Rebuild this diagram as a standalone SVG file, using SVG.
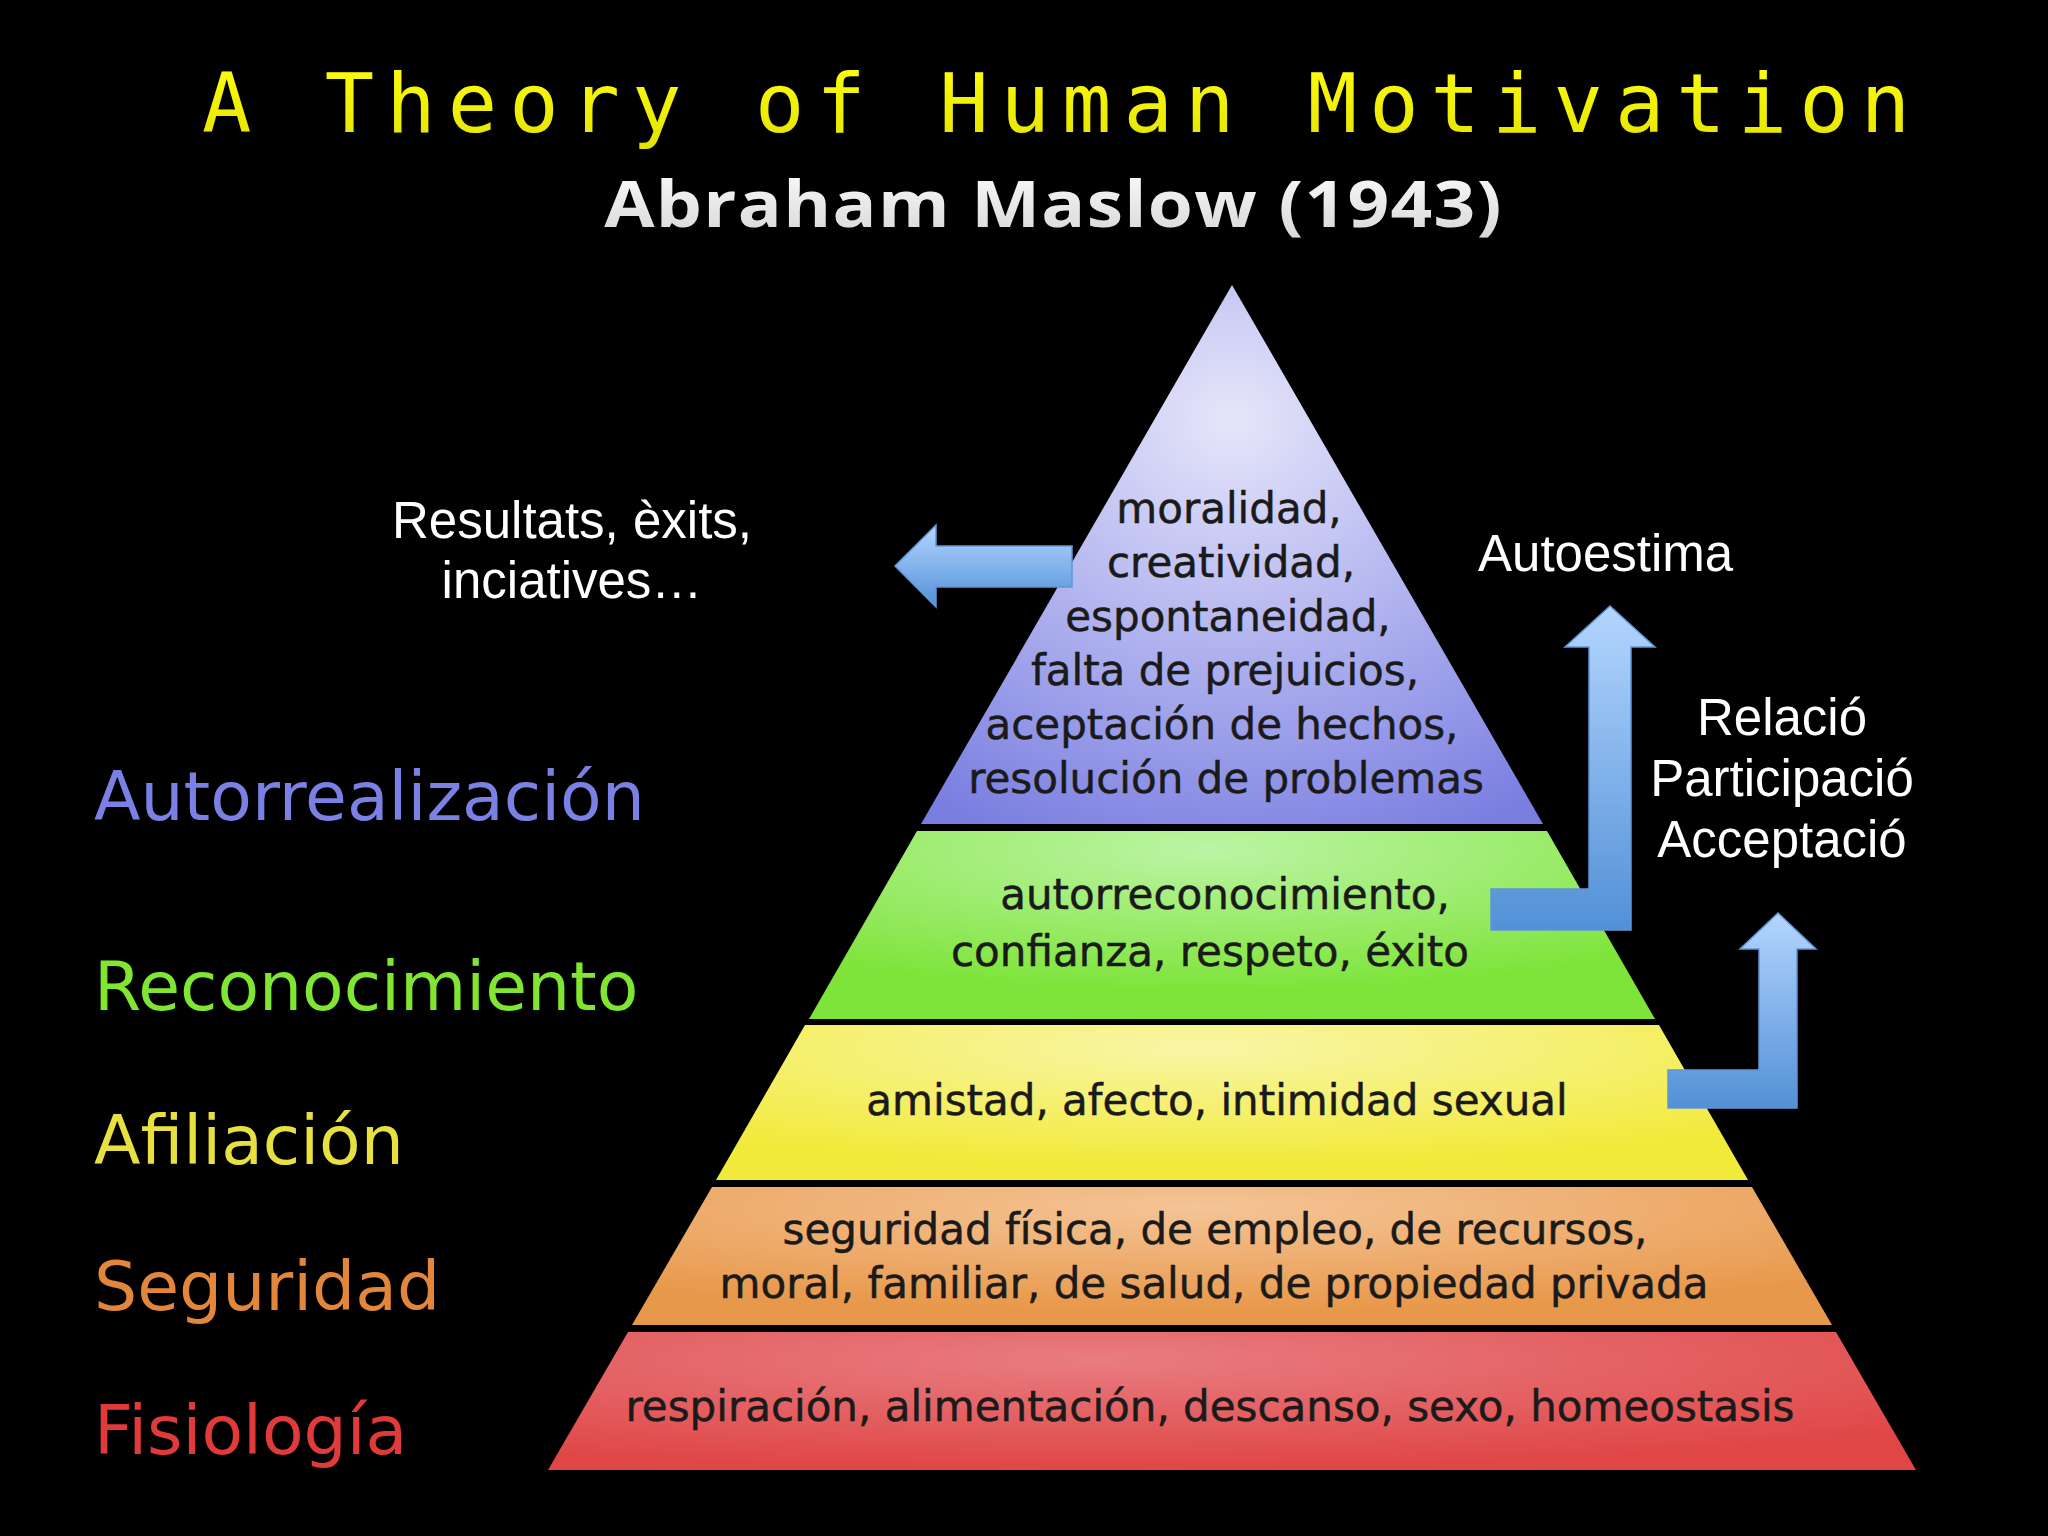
<svg xmlns="http://www.w3.org/2000/svg" width="2048" height="1536" viewBox="0 0 2048 1536">
<defs>
<style>
.lvl{font-family:"DejaVu Sans",Verdana,sans-serif;font-size:42px;fill:#1a1a1a;stroke:#1a1a1a;stroke-width:0.5;text-anchor:middle}
.lab{font-family:"DejaVu Sans",Verdana,sans-serif;font-size:68px}
.note{font-family:"Liberation Sans",Arial,sans-serif;font-size:51px;fill:#ffffff}
.arrow{stroke:#5f97d8;stroke-width:1.5}
</style>
<radialGradient id="gPurple" cx="0.5" cy="0.25" r="0.85">
<stop offset="0" stop-color="#e6e6fa"/>
<stop offset="0.45" stop-color="#b6b8f0"/>
<stop offset="1" stop-color="#7a7ee0"/>
</radialGradient>
<radialGradient id="gGreen" cx="0.47" cy="0.1" r="0.75">
<stop offset="0" stop-color="#bcf4a4"/>
<stop offset="1" stop-color="#7ee43a"/>
</radialGradient>
<radialGradient id="gYellow" cx="0.47" cy="0.15" r="0.75">
<stop offset="0" stop-color="#f8f6a6"/>
<stop offset="1" stop-color="#f2ea3a"/>
</radialGradient>
<radialGradient id="gOrange" cx="0.47" cy="0.15" r="0.75">
<stop offset="0" stop-color="#f4c496"/>
<stop offset="1" stop-color="#e8984a"/>
</radialGradient>
<radialGradient id="gRed" cx="0.4" cy="0.2" r="0.8">
<stop offset="0" stop-color="#e87c80"/>
<stop offset="1" stop-color="#e04646"/>
</radialGradient>
<linearGradient id="gArrow" x1="0" y1="0" x2="0" y2="1">
<stop offset="0" stop-color="#b4d6ff"/>
<stop offset="1" stop-color="#5290d6"/>
</linearGradient>
<linearGradient id="gTitle" x1="0" y1="0" x2="0" y2="1">
<stop offset="0" stop-color="#ffff10"/>
<stop offset="1" stop-color="#e2e200"/>
</linearGradient>
<linearGradient id="gSub" x1="0" y1="0" x2="0" y2="1">
<stop offset="0" stop-color="#ffffff"/>
<stop offset="1" stop-color="#d4d4d4"/>
</linearGradient>
</defs>
<rect width="2048" height="1536" fill="#000"/>

<g id="title">
<text x="202" y="132" font-family="'DejaVu Sans Mono','Liberation Mono',monospace" font-size="82" fill="url(#gTitle)" textLength="1708" lengthAdjust="spacing">A Theory of Human Motivation</text>
</g>
<g id="subtitle">
<text transform="scale(1.14,1)" x="530" y="227" font-family="'Open Sans','Noto Sans',sans-serif" font-weight="bold" font-size="64" fill="url(#gSub)" textLength="787" lengthAdjust="spacing">Abraham Maslow (1943)</text>
</g>

<g id="level-autorrealizacion">
<polygon points="1232,285 1543,824 921,824" fill="url(#gPurple)"/>
<text class="lvl"><tspan x="1229" y="523">moralidad,</tspan><tspan x="1231" y="577">creatividad,</tspan><tspan x="1228" y="631">espontaneidad,</tspan><tspan x="1225" y="685">falta de prejuicios,</tspan><tspan x="1222" y="739">aceptación de hechos,</tspan><tspan x="1226" y="793">resolución de problemas</tspan></text>
</g>
<g id="level-reconocimiento">
<polygon points="917,831 1547,831 1655,1019 809,1019" fill="url(#gGreen)"/>
<text class="lvl"><tspan x="1225" y="909">autorreconocimiento,</tspan><tspan x="1210" y="966">confianza, respeto, éxito</tspan></text>
</g>
<g id="level-afiliacion">
<polygon points="805,1025 1659,1025 1748,1180 716,1180" fill="url(#gYellow)"/>
<text class="lvl" x="1217" y="1115">amistad, afecto, intimidad sexual</text>
</g>
<g id="level-seguridad">
<polygon points="712,1187 1752,1187 1832,1325 632,1325" fill="url(#gOrange)"/>
<text class="lvl"><tspan x="1215" y="1244">seguridad física, de empleo, de recursos,</tspan><tspan x="1214" y="1298">moral, familiar, de salud, de propiedad privada</tspan></text>
</g>
<g id="level-fisiologia">
<polygon points="628,1332 1836,1332 1916,1470 548,1470" fill="url(#gRed)"/>
<text class="lvl" x="1210" y="1421">respiración, alimentación, descanso, sexo, homeostasis</text>
</g>

<g id="labels">
<text id="label-autorrealizacion" class="lab" x="94" y="820" fill="#7a80e4">Autorrealización</text>
<text id="label-reconocimiento" class="lab" x="94" y="1010" fill="#80e632">Reconocimiento</text>
<text id="label-afiliacion" class="lab" x="94" y="1164" fill="#e6e040">Afiliación</text>
<text id="label-seguridad" class="lab" x="94" y="1310" fill="#e2863c">Seguridad</text>
<text id="label-fisiologia" class="lab" x="94" y="1454" fill="#e03a3a">Fisiología</text>
</g>

<g id="note-resultats">
<text class="note" text-anchor="middle"><tspan x="572" y="538">Resultats, èxits,</tspan><tspan x="572" y="598">inciatives…</tspan></text>
</g>
<g id="note-autoestima">
<text class="note" x="1478" y="571">Autoestima</text>
</g>
<g id="note-relacio">
<text class="note" text-anchor="middle"><tspan x="1782" y="735">Relació</tspan><tspan x="1782" y="796">Participació</tspan><tspan x="1782" y="857">Acceptació</tspan></text>
</g>

<g id="connectors">
<path class="arrow" fill="url(#gArrow)" d="M1072,546 L936,546 L936,525 L895,566 L936,607 L936,587 L1072,587 Z"/>
<path class="arrow" fill="url(#gArrow)" d="M1491,889 L1589,889 L1589,647 L1565,647 L1610,606 L1655,647 L1631,647 L1631,930 L1491,930 Z"/>
<path class="arrow" fill="url(#gArrow)" d="M1668,1070 L1759,1070 L1759,949 L1740,949 L1778,913 L1816,949 L1797,949 L1797,1108 L1668,1108 Z"/>
</g>
</svg>
